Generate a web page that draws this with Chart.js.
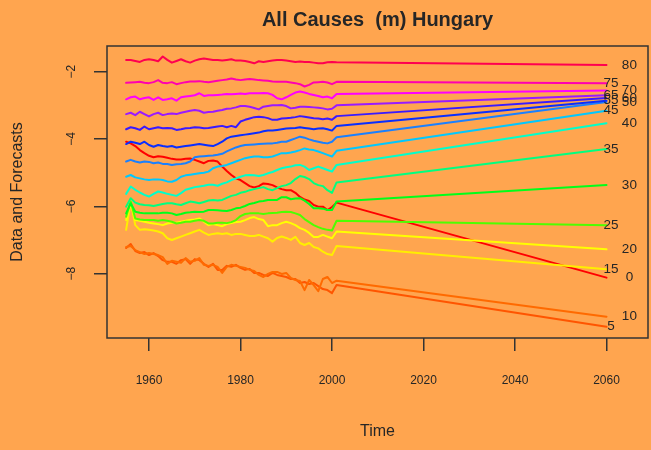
<!DOCTYPE html>
<html lang="en">
<head>
<meta charset="UTF-8">
<title>All Causes (m) Hungary</title>
<script src="https://cdn.jsdelivr.net/npm/chart.js"></script>
<style>
  html, body { margin: 0; padding: 0; background: #FFA54F; }
</style>
</head>
<body>
<canvas id="chart" width="651" height="450"></canvas>
<script>
// observed years
const years = [1955,1956,1957,1958,1959,1960,1961,1962,1963,1964,
               1965,1966,1967,1968,1969,1970,1971,1972,1973,1974,
               1975,1976,1977,1978,1979,1980,1981,1982,1983,1984,
               1985,1986,1987,1988,1989,1990,1991,1992,1993,1994,
               1995,1996,1997,1998,1999,2000];

const ages = [0, 5, 10, 15, 20, 25, 30, 35, 40, 45, 50, 55, 60, 65, 70, 75, 80];

// log death rates by age group, 1955-2000
const age0 = [-4.08,-4.13,-4.21,-4.33,-4.42,-4.50,-4.54,-4.51,-4.53,-4.56,
  -4.59,-4.61,-4.61,-4.59,-4.58,-4.62,-4.67,-4.72,-4.65,-4.64,
  -4.67,-4.82,-4.95,-5.07,-5.17,-5.22,-5.31,-5.40,-5.44,-5.40,
  -5.32,-5.34,-5.37,-5.44,-5.49,-5.52,-5.52,-5.60,-5.72,-5.80,
  -5.84,-5.96,-6.01,-6.01,-6.11,-6.02];
const age5 = [-7.24,-7.12,-7.33,-7.39,-7.36,-7.45,-7.39,-7.48,-7.60,-7.65,
  -7.65,-7.71,-7.60,-7.57,-7.71,-7.57,-7.60,-7.71,-7.80,-7.71,
  -7.89,-7.89,-7.77,-7.80,-7.74,-7.83,-7.89,-7.86,-7.98,-7.98,
  -8.04,-8.07,-7.98,-8.04,-8.07,-8.10,-8.16,-8.16,-8.28,-8.25,
  -8.31,-8.28,-8.37,-8.46,-8.49,-8.58];
const age10 = [-7.21,-7.18,-7.30,-7.36,-7.42,-7.39,-7.42,-7.45,-7.51,-7.71,
  -7.62,-7.65,-7.68,-7.54,-7.65,-7.62,-7.54,-7.74,-7.77,-7.74,
  -7.80,-7.98,-7.80,-7.74,-7.77,-7.80,-7.83,-7.89,-7.92,-8.04,
  -8.10,-8.01,-7.95,-7.95,-8.01,-7.98,-8.13,-8.19,-8.22,-8.49,
  -8.19,-8.34,-8.52,-8.16,-8.10,-8.28];
const age15 = [-6.70,-5.86,-6.56,-6.70,-6.68,-6.70,-6.72,-6.75,-6.80,-6.95,
  -7.00,-6.95,-6.90,-6.85,-6.80,-6.75,-6.70,-6.78,-6.85,-6.82,
  -6.80,-6.82,-6.80,-6.85,-6.82,-6.82,-6.85,-6.88,-6.88,-6.85,
  -6.90,-6.95,-7.05,-6.94,-6.90,-6.94,-7.00,-6.91,-7.09,-7.15,
  -7.09,-7.21,-7.25,-7.35,-7.42,-7.45];
const age20 = [-6.41,-5.91,-6.41,-6.43,-6.46,-6.49,-6.51,-6.53,-6.56,-6.51,
  -6.49,-6.49,-6.46,-6.43,-6.41,-6.39,-6.36,-6.46,-6.56,-6.53,
  -6.56,-6.59,-6.53,-6.50,-6.47,-6.46,-6.41,-6.35,-6.32,-6.38,
  -6.41,-6.59,-6.56,-6.56,-6.50,-6.46,-6.50,-6.56,-6.65,-6.70,
  -6.79,-6.91,-6.91,-6.85,-6.90,-6.95];
const age25 = [-6.31,-5.86,-6.36,-6.39,-6.41,-6.41,-6.41,-6.43,-6.41,-6.43,
  -6.46,-6.51,-6.49,-6.46,-6.46,-6.43,-6.41,-6.43,-6.51,-6.51,
  -6.49,-6.49,-6.50,-6.47,-6.41,-6.29,-6.23,-6.21,-6.21,-6.21,
  -6.23,-6.21,-6.20,-6.19,-6.17,-6.16,-6.17,-6.21,-6.26,-6.38,
  -6.47,-6.56,-6.62,-6.67,-6.70,-6.72];
const age30 = [-6.21,-5.91,-6.16,-6.19,-6.21,-6.21,-6.21,-6.21,-6.19,-6.19,
  -6.21,-6.26,-6.23,-6.19,-6.18,-6.16,-6.17,-6.16,-6.11,-6.11,
  -6.12,-6.13,-6.14,-6.11,-6.06,-6.04,-5.99,-5.93,-5.90,-5.86,
  -5.84,-5.81,-5.81,-5.81,-5.73,-5.73,-5.79,-5.77,-5.76,-5.83,
  -5.93,-6.06,-6.06,-6.07,-6.11,-6.11];
const age35 = [-6.01,-5.76,-5.89,-5.94,-5.96,-5.97,-5.99,-5.96,-5.93,-5.91,
  -5.91,-5.94,-5.96,-5.91,-5.86,-5.88,-5.91,-5.87,-5.83,-5.81,
  -5.83,-5.81,-5.75,-5.69,-5.66,-5.60,-5.57,-5.52,-5.49,-5.46,
  -5.43,-5.49,-5.52,-5.46,-5.40,-5.37,-5.31,-5.19,-5.10,-5.13,
  -5.19,-5.31,-5.37,-5.40,-5.52,-5.60];
const age40 = [-5.63,-5.41,-5.51,-5.59,-5.66,-5.71,-5.63,-5.56,-5.59,-5.63,
  -5.66,-5.69,-5.61,-5.51,-5.47,-5.43,-5.41,-5.39,-5.36,-5.36,
  -5.39,-5.33,-5.29,-5.22,-5.17,-5.12,-5.08,-5.07,-5.08,-5.10,
  -5.07,-5.02,-4.98,-4.92,-4.87,-4.84,-4.82,-4.78,-4.77,-4.82,
  -4.92,-4.87,-4.82,-4.87,-4.92,-4.97];
const age45 = [-5.12,-5.07,-5.14,-5.17,-5.20,-5.22,-5.20,-5.20,-5.22,-5.26,
  -5.27,-5.22,-5.12,-5.08,-5.06,-5.04,-5.02,-5.00,-4.97,-4.87,
  -4.82,-4.80,-4.77,-4.72,-4.67,-4.62,-4.57,-4.54,-4.52,-4.52,
  -4.54,-4.54,-4.52,-4.47,-4.42,-4.42,-4.40,-4.37,-4.33,-4.28,
  -4.31,-4.33,-4.37,-4.42,-4.47,-4.52];
const age50 = [-4.67,-4.62,-4.67,-4.70,-4.67,-4.68,-4.72,-4.70,-4.74,-4.74,
  -4.77,-4.75,-4.74,-4.72,-4.67,-4.54,-4.52,-4.51,-4.50,-4.49,
  -4.47,-4.44,-4.37,-4.31,-4.25,-4.21,-4.18,-4.17,-4.16,-4.15,
  -4.14,-4.13,-4.13,-4.11,-4.08,-4.08,-4.03,-3.98,-3.93,-3.96,
  -4.01,-4.05,-4.08,-4.11,-4.13,-4.08];
const age55 = [-4.15,-4.08,-4.11,-4.15,-4.08,-4.18,-4.23,-4.18,-4.21,-4.23,
  -4.21,-4.25,-4.23,-4.21,-4.19,-4.17,-4.15,-4.17,-4.19,-4.21,
  -4.15,-4.08,-3.98,-3.93,-3.91,-3.89,-3.87,-3.85,-3.83,-3.81,
  -3.77,-3.75,-3.75,-3.73,-3.71,-3.69,-3.68,-3.67,-3.65,-3.67,
  -3.69,-3.71,-3.69,-3.68,-3.71,-3.75];
const age60 = [-3.71,-3.65,-3.68,-3.73,-3.63,-3.71,-3.68,-3.65,-3.68,-3.67,
  -3.68,-3.73,-3.71,-3.68,-3.67,-3.65,-3.66,-3.68,-3.67,-3.65,
  -3.63,-3.61,-3.65,-3.61,-3.65,-3.48,-3.43,-3.39,-3.35,-3.34,
  -3.35,-3.38,-3.43,-3.43,-3.39,-3.38,-3.37,-3.35,-3.32,-3.34,
  -3.36,-3.38,-3.39,-3.41,-3.39,-3.43];
const age65 = [-3.26,-3.22,-3.29,-3.19,-3.26,-3.33,-3.26,-3.22,-3.29,-3.26,
  -3.24,-3.26,-3.22,-3.19,-3.16,-3.14,-3.16,-3.22,-3.20,-3.19,
  -3.16,-3.14,-3.10,-3.09,-3.06,-3.02,-3.02,-3.04,-3.08,-3.12,
  -3.04,-3.02,-3.00,-3.00,-2.99,-3.02,-3.09,-3.07,-3.04,-3.04,
  -3.05,-3.06,-3.07,-3.09,-3.12,-3.10];
const age70 = [-2.82,-2.76,-2.74,-2.82,-2.78,-2.76,-2.84,-2.76,-2.84,-2.82,
  -2.79,-2.86,-2.76,-2.74,-2.72,-2.70,-2.64,-2.72,-2.70,-2.70,
  -2.69,-2.68,-2.66,-2.67,-2.66,-2.65,-2.66,-2.64,-2.64,-2.64,
  -2.63,-2.64,-2.69,-2.79,-2.82,-2.76,-2.69,-2.62,-2.59,-2.62,
  -2.66,-2.69,-2.72,-2.76,-2.74,-2.79];
const age75 = [-2.33,-2.32,-2.31,-2.30,-2.33,-2.34,-2.31,-2.25,-2.33,-2.34,
  -2.31,-2.37,-2.34,-2.31,-2.29,-2.29,-2.28,-2.30,-2.31,-2.29,
  -2.27,-2.25,-2.23,-2.20,-2.23,-2.25,-2.23,-2.22,-2.23,-2.25,
  -2.26,-2.27,-2.29,-2.30,-2.30,-2.30,-2.32,-2.34,-2.37,-2.44,
  -2.39,-2.32,-2.31,-2.30,-2.32,-2.37];
const age80 = [-1.65,-1.65,-1.68,-1.71,-1.65,-1.63,-1.65,-1.69,-1.55,-1.65,
  -1.73,-1.68,-1.63,-1.69,-1.73,-1.67,-1.63,-1.61,-1.63,-1.65,
  -1.65,-1.67,-1.65,-1.63,-1.67,-1.67,-1.68,-1.71,-1.75,-1.69,
  -1.71,-1.69,-1.67,-1.65,-1.65,-1.67,-1.69,-1.71,-1.70,-1.71,
  -1.71,-1.73,-1.75,-1.75,-1.72,-1.71];

const observed = [age0, age5, age10, age15, age20, age25, age30, age35, age40,
                  age45, age50, age55, age60, age65, age70, age75, age80];

// forecast start (2001) and end (2060), one per age group
const fcYears = [2001, 2060];
const fcStart = [-5.89,-8.34,-8.21,-7.18,-6.75,-6.43,-5.86,-5.29,-4.77,
                 -4.35,-3.95,-3.61,-3.32,-3.00,-2.66,-2.30,-1.72];
const fcEnd   = [-8.12,-9.58,-9.28,-7.87,-7.28,-6.56,-5.37,-4.30,-3.53,
                 -3.16,-2.90,-2.86,-2.78,-2.70,-2.56,-2.34,-1.80];

const xTicks = [1960, 1980, 2000, 2020, 2040, 2060];
const yTicks = [-8, -6, -4, -2];

const ageColors = ['#FF0000','#FF5500','#FF6A00','#FFEE00','#FFFF00','#4DFF00',
                   '#00FF1A','#00FF80','#00FFCC','#00C8FF','#1A80FF','#0A2EFF',
                   '#3A1AFF','#9A1AFF','#FF00FF','#FF00B0','#FF0050'];

const FONT = '"Liberation Sans", Arial, Helvetica, sans-serif';
const INK = '#262626';
Chart.defaults.font.family = FONT;

const datasets = ages.map((age, i) => ({
  label: String(age),
  data: years.map((yr, j) => ({ x: yr, y: observed[i][j] }))
    .concat([{ x: fcYears[0], y: fcStart[i] }, { x: fcYears[1], y: fcEnd[i] }]),
  borderColor: ageColors[i],
  borderWidth: 2,
  pointRadius: 0,
  tension: 0,
  fill: false,
  borderJoinStyle: 'round',
  borderCapStyle: 'round',
  order: ages.length - i   // older ages drawn on top
}));

// page background + plot frame
const frame = {
  id: 'frame',
  beforeDraw(chart) {
    const { ctx, width, height } = chart;
    ctx.save();
    ctx.fillStyle = '#FFA54F';
    ctx.fillRect(0, 0, width, height);
    ctx.restore();
  },
  afterDraw(chart) {
    const { ctx, chartArea: a } = chart;
    ctx.save();
    ctx.strokeStyle = '#333';
    ctx.lineWidth = 1.5;
    ctx.strokeRect(a.left, a.top, a.right - a.left, a.bottom - a.top);
    ctx.restore();
  }
};

// age labels at the end of each forecast line, alternating two columns
const ageLabels = {
  id: 'ageLabels',
  afterDatasetsDraw(chart) {
    const { ctx, scales: { x, y } } = chart;
    ctx.save();
    ctx.font = '13.5px ' + FONT;
    ctx.fillStyle = INK;
    ctx.textAlign = 'center';
    ctx.textBaseline = 'middle';
    ages.forEach((age, i) => {
      const lx = i % 2 === 0 ? 2065 : 2061;
      ctx.fillText(String(age), x.getPixelForValue(lx), y.getPixelForValue(fcEnd[i]));
    });
    ctx.restore();
  }
};

new Chart(document.getElementById('chart'), {
  type: 'line',
  data: { datasets },
  options: {
    responsive: false,
    animation: false,
    layout: { padding: { left: 0, right: 3, top: 0, bottom: 0 } },
    plugins: {
      legend: { display: false },
      tooltip: { enabled: false },
      title: {
        display: true,
        text: 'All Causes  (m) Hungary',
        fullSize: false,
        color: INK,
        font: { size: 20, weight: 'bold' },
        padding: { top: 8, bottom: 14 }
      }
    },
    scales: {
      x: {
        type: 'linear',
        min: 1950.82,
        max: 2069.07,
        afterFit(s) { s.height = 112; },
        afterBuildTicks(s) { s.ticks = xTicks.map(v => ({ value: v })); },
        grid: { drawOnChartArea: false, drawTicks: true, tickLength: 13, color: '#333', lineWidth: 1.5 },
        border: { display: false },
        ticks: {
          callback: v => String(v),
          padding: 22.8,
          maxRotation: 0,
          autoSkip: false,
          color: INK,
          font: { size: 12 }
        },
        title: {
          display: true,
          text: 'Time',
          color: INK,
          font: { size: 16 },
          padding: { top: 0, bottom: 8.4 }
        }
      },
      y: {
        min: -9.914,
        max: -1.236,
        afterFit(s) { s.width = 107; },
        afterBuildTicks(s) { s.ticks = yTicks.map(v => ({ value: v })); },
        grid: { drawOnChartArea: false, drawTicks: true, tickLength: 13, color: '#333', lineWidth: 1.5 },
        border: { display: false },
        ticks: {
          callback: v => (v < 0 ? '\u2212' : '') + Math.abs(v),
          minRotation: 90,
          maxRotation: 90,
          crossAlign: 'center',
          padding: 15.2,
          color: INK,
          font: { size: 12 }
        },
        title: {
          display: true,
          text: 'Data and Forecasts',
          color: INK,
          font: { size: 16 },
          padding: { top: 8.4, bottom: 0 }
        }
      }
    }
  },
  plugins: [frame, ageLabels]
});
</script>
</body>
</html>
